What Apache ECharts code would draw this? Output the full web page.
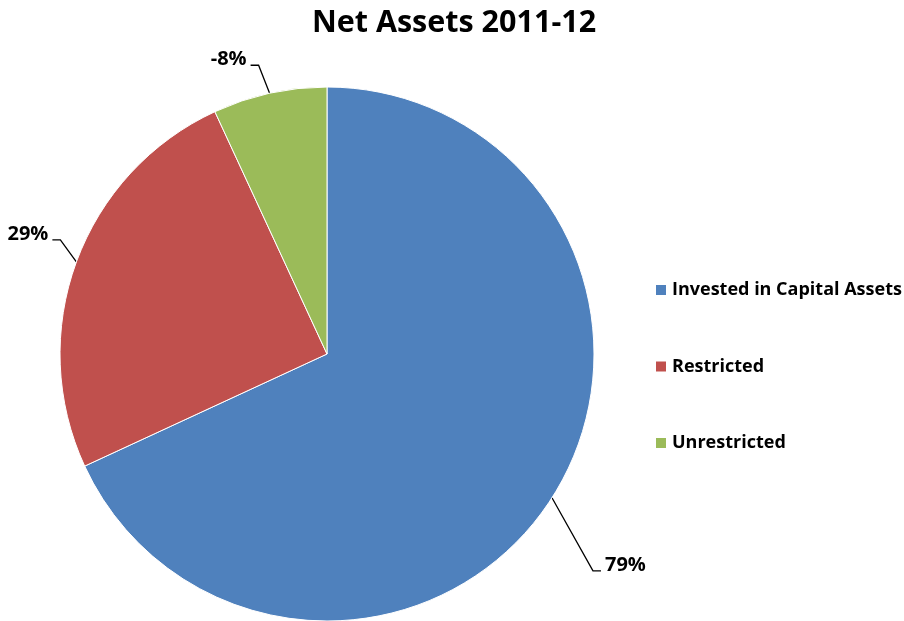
<!DOCTYPE html>
<html>
<head>
<meta charset="utf-8">
<script src="https://cdn.jsdelivr.net/npm/echarts@6/dist/echarts.min.js"></script>
<style>
html,body{margin:0;padding:0;background:#fff;}
#chart{width:904px;height:621px;}
</style>
</head>
<body>
<div id="chart"></div>
<script>
const categories = ['Invested in Capital Assets', 'Restricted', 'Unrestricted'];
const percentValues = [79, 29, -8];
const colors = ['#4F81BD', '#C0504D', '#9BBB59'];
// leader line elbow offsets from the slice edge (style only)
const elbowOffsets = [[41, 73], [-16, -22], [-11, -28]];
const tail = 8;

const font = '"Open Sans", "Liberation Sans", sans-serif';
const chart = echarts.init(document.getElementById('chart'));
chart.setOption({
  animation: false,
  title: {
    text: 'Net Assets 2011-12',
    left: 449, top: 3, textAlign: 'center',
    textStyle: {fontFamily: font, fontWeight: 'bold', fontSize: 30.5, color: '#000'}
  },
  legend: {
    orient: 'vertical', left: 649, top: 276,
    itemWidth: 12, itemHeight: 12, itemGap: 58.5, icon: 'rect',
    textStyle: {fontFamily: font, fontWeight: 'bold', fontSize: 18, color: '#000'},
    data: categories
  },
  series: [{
    type: 'pie',
    center: [327, 354], radius: 267,
    startAngle: 90, clockwise: true,
    avoidLabelOverlap: false,
    itemStyle: {borderColor: '#fff', borderWidth: 1},
    label: {
      show: true, fontFamily: font, fontWeight: 'bold', fontSize: 20, color: '#000',
      formatter: p => percentValues[p.dataIndex] + '%'
    },
    labelLine: {show: true, length: 25, length2: 8, lineStyle: {color: '#000', width: 1.3}},
    labelLayout: function (params) {
      const pts = params.labelLinePoints;
      if (!pts) return {};
      const p0 = pts[0];
      const off = elbowOffsets[params.dataIndex];
      const elbow = [p0[0] + off[0], p0[1] + off[1]];
      const right = off[0] >= 0;
      const end = [elbow[0] + (right ? tail : -tail), elbow[1]];
      return {
        x: end[0] + (right ? 4 : -4),
        y: end[1] - 6,
        align: right ? 'left' : 'right',
        verticalAlign: 'middle',
        labelLinePoints: [p0, elbow, end]
      };
    },
    data: categories.map((c, i) => ({
      name: c, value: Math.abs(percentValues[i]),
      itemStyle: {color: colors[i]}
    }))
  }]
});
</script>
</body>
</html>
